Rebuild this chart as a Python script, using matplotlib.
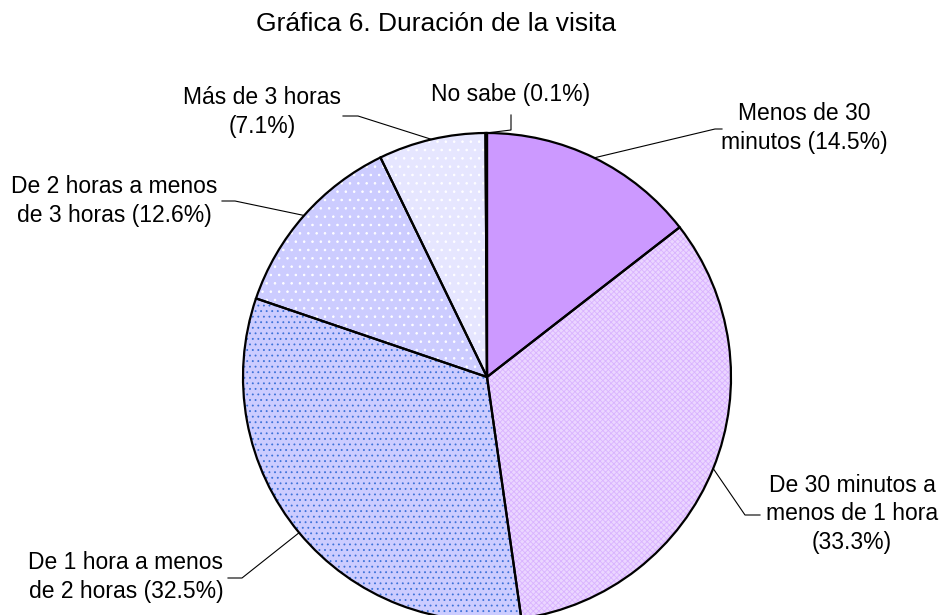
import numpy as np
import matplotlib.pyplot as plt

plt.rcParams['font.family'] = ['Liberation Sans', 'DejaVu Sans']
plt.rcParams['hatch.linewidth'] = 0.6

# datos de la gráfica
categorias = ['Menos de 30\nminutos ', 'De 30 minutos a\nmenos de 1 hora\n',
              'De 1 hora a menos\nde 2 horas ', 'De 2 horas a menos\nde 3 horas ',
              'Más de 3 horas\n', 'No sabe ']
porcentajes = [14.5, 33.3, 32.5, 12.6, 7.1, 0.1]
titulo = 'Gráfica 6. Duración de la visita'

# estilos de cada sector (fondo, trama, color de trama)
fondos = ['#CC99FF', '#EBD6FF', '#CCCCFF', '#CCCCFF', '#E6E6FF', '#9999FF']
tramas = ['', 'xxxxxx', '...', '..', '..', '']
colores_trama = ['#CC99FF', '#D9B3FF', '#3D72D9', '#FFFFFF', '#FFFFFF', '#9999FF']

# posiciones en píxeles (x, y desde arriba)
W, H = 942, 615
cx, cy, r = 487, 377, 244
pos_texto = [(804, 128), (852, 514), (126, 577), (114, 201), (262, 112), (511, 95)]
codos = [(715, 129), (745, 515), (242, 578), (235, 201), (358, 116), (511, 130)]
finales = [(722, 129), (760, 515), (228, 578), (222, 201), (343, 116), (511, 115)]

fig = plt.figure(figsize=(W / 100, H / 100), dpi=100)
ax = fig.add_axes([0, 0, 1, 1])

# primera pasada: relleno y tramas
sectores, _ = ax.pie(porcentajes, center=(cx, H - cy), radius=r, startangle=90,
                     counterclock=False, colors=fondos,
                     wedgeprops=dict(linewidth=0))
for w, t, c in zip(sectores, tramas, colores_trama):
    w.set_hatch(t)
    w.set_edgecolor(c)

# segunda pasada: bordes negros
bordes, _ = ax.pie(porcentajes, center=(cx, H - cy), radius=r, startangle=90,
                   counterclock=False,
                   wedgeprops=dict(facecolor='none', edgecolor='black', linewidth=1.6))

# etiquetas con líneas guía
for w, cat, v, (tx, ty), (ex, ey), (fx, fy) in zip(sectores, categorias, porcentajes,
                                                   pos_texto, codos, finales):
    ang = np.deg2rad((w.theta1 + w.theta2) / 2)
    px = cx + r * np.cos(ang)
    py = H - cy + r * np.sin(ang)
    ax.plot([px, ex, fx], [py, H - ey, H - fy], color='black', linewidth=0.8)
    ax.text(tx, H - ty, f'{cat}({v}%)', ha='center', va='center',
            fontsize=16.5, linespacing=1.3)

ax.text(436, H - 24, titulo, ha='center', va='center', fontsize=19)

ax.set_xlim(0, W)
ax.set_ylim(0, H)
ax.set_aspect('auto')
ax.axis('off')

fig.savefig('out.png', dpi=100, facecolor='white')
